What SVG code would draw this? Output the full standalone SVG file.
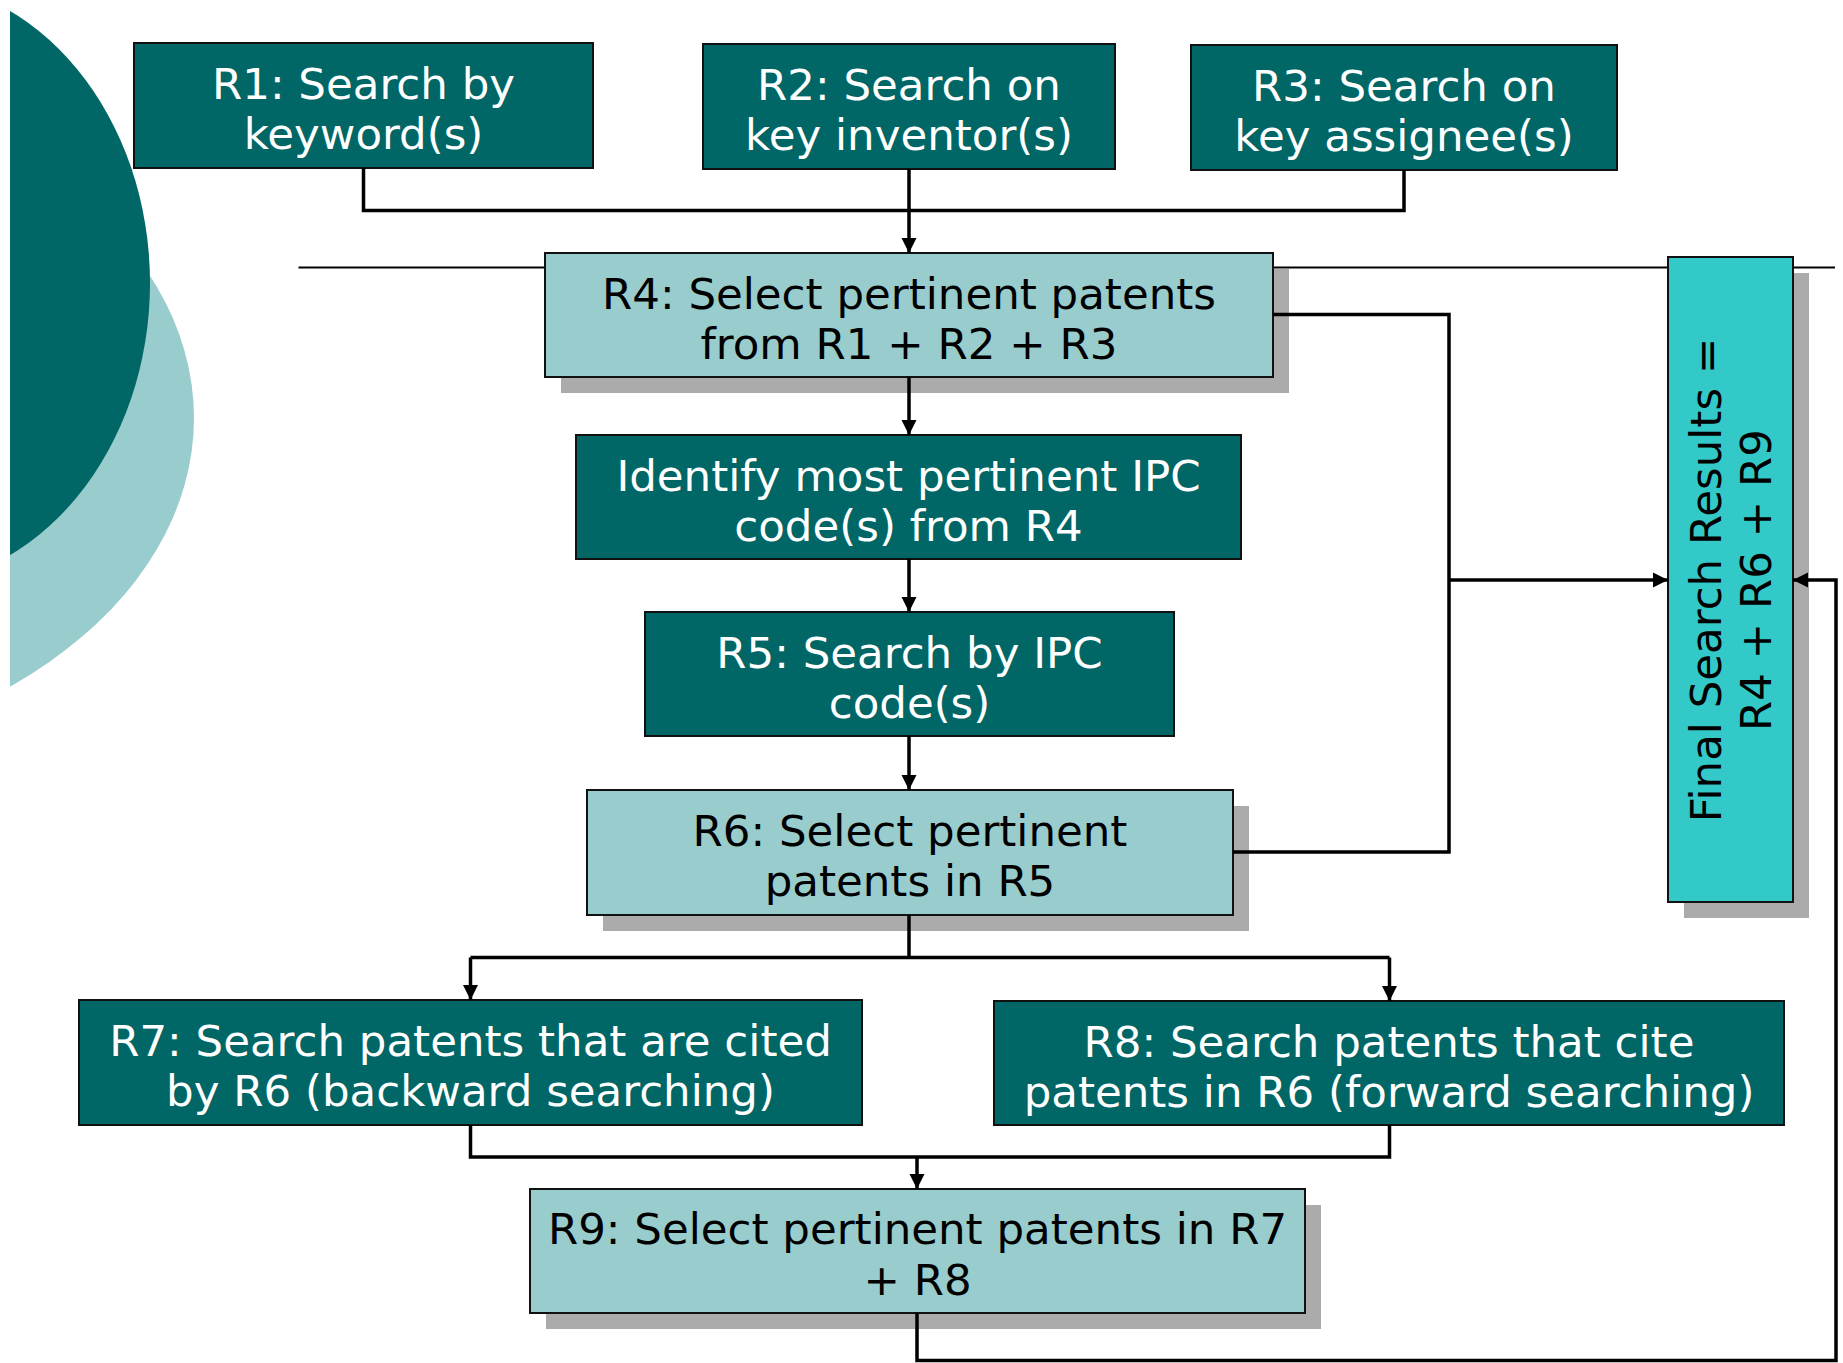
<svg xmlns="http://www.w3.org/2000/svg" width="1843" height="1363" viewBox="0 0 1843 1363">
<defs>
<clipPath id="clipL"><rect x="10" y="0" width="400" height="1363"/></clipPath>
<marker id="arr" markerUnits="userSpaceOnUse" markerWidth="16" markerHeight="16" refX="15" refY="8" orient="auto">
<path d="M0,0.5 L15,8 L0,15.5 z" fill="#000"/>
</marker>
<style>
.dark{fill:#006666;stroke:#111;stroke-width:2}
.light{fill:#99CCCC;stroke:#111;stroke-width:2}
.cyan{fill:#33C9C9;stroke:#111;stroke-width:2}
.shadow{fill:#ABABAB}
.tw{font-family:"DejaVu Sans",Verdana,sans-serif;font-size:43.5px;fill:#ffffff;text-anchor:middle}
.tb{font-family:"DejaVu Sans",Verdana,sans-serif;font-size:43.5px;fill:#000000;text-anchor:middle}
.conn{fill:none;stroke:#000;stroke-width:3.5;stroke-linejoin:miter}
</style>
</defs>
<rect width="1843" height="1363" fill="#ffffff"/>
<g id="background" clip-path="url(#clipL)">
<ellipse cx="-300" cy="418" rx="494" ry="345" fill="#99CCCC"/>
<ellipse cx="-100" cy="283" rx="250" ry="303" fill="#006666"/>
</g>
<line id="divider" x1="298.5" y1="267.5" x2="1835" y2="267.5" stroke="#000" stroke-width="2"/>
<g id="R1"><rect class="dark" x="134" y="43" width="459" height="125"/>
<text class="tw" x="363.5" y="99">R1: Search by</text><text class="tw" x="363.5" y="149">keyword(s)</text></g>
<g id="R2"><rect class="dark" x="703" y="44" width="412" height="125"/>
<text class="tw" x="909" y="100">R2: Search on</text><text class="tw" x="909" y="150">key inventor(s)</text></g>
<g id="R3"><rect class="dark" x="1191" y="45" width="426" height="125"/>
<text class="tw" x="1404" y="101">R3: Search on</text><text class="tw" x="1404" y="151">key assignee(s)</text></g>
<g id="R4"><rect class="shadow" x="561" y="269" width="728" height="124"/><rect class="light" x="545" y="253" width="728" height="124"/>
<text class="tb" x="909" y="308.5">R4: Select pertinent patents</text><text class="tb" x="909" y="358.5">from R1 + R2 + R3</text></g>
<g id="IPC"><rect class="dark" x="576" y="435" width="665" height="124"/>
<text class="tw" x="908.5" y="490.5">Identify most pertinent IPC</text><text class="tw" x="908.5" y="540.5">code(s) from R4</text></g>
<g id="R5"><rect class="dark" x="645" y="612" width="529" height="124"/>
<text class="tw" x="909.5" y="667.5">R5: Search by IPC</text><text class="tw" x="909.5" y="717.5">code(s)</text></g>
<g id="R6"><rect class="shadow" x="603" y="806" width="646" height="125"/><rect class="light" x="587" y="790" width="646" height="125"/>
<text class="tb" x="910" y="846">R6: Select pertinent</text><text class="tb" x="910" y="896">patents in R5</text></g>
<g id="R7"><rect class="dark" x="79" y="1000" width="783" height="125"/>
<text class="tw" x="470.5" y="1056">R7: Search patents that are cited</text><text class="tw" x="470.5" y="1106">by R6 (backward searching)</text></g>
<g id="R8"><rect class="dark" x="994" y="1001" width="790" height="124"/>
<text class="tw" x="1389" y="1056.5">R8: Search patents that cite</text><text class="tw" x="1389" y="1106.5">patents in R6 (forward searching)</text></g>
<g id="R9"><rect class="shadow" x="546" y="1205" width="775" height="124"/><rect class="light" x="530" y="1189" width="775" height="124"/>
<text class="tb" x="917.5" y="1243.5">R9: Select pertinent patents in R7</text><text class="tb" x="917.5" y="1294.5">+ R8</text></g>
<g id="Final"><rect class="shadow" x="1684" y="273" width="125" height="645"/><rect class="cyan" x="1668" y="257" width="125" height="645"/>
<g transform="translate(1730,580) rotate(-90)"><text class="tb" x="0" y="-9">Final Search Results =</text><text class="tb" x="0" y="41">R4 + R6 + R9</text></g></g>
<g id="connectors">
<path class="conn" d="M363.5,168 V210.5 H1404 V170"/>
<path class="conn" d="M909,169 V253" marker-end="url(#arr)"/>
<path class="conn" d="M909,377 V435" marker-end="url(#arr)"/>
<path class="conn" d="M909,559 V612" marker-end="url(#arr)"/>
<path class="conn" d="M909,736 V790" marker-end="url(#arr)"/>
<path class="conn" d="M1273,314.5 H1449 V852 H1233"/>
<path class="conn" d="M1449,580 H1668" marker-end="url(#arr)"/>
<path class="conn" d="M909,915 V957.5"/>
<path class="conn" d="M470.5,957.5 H1389.5"/>
<path class="conn" d="M470.5,957.5 V1000" marker-end="url(#arr)"/>
<path class="conn" d="M1389.5,957.5 V1001" marker-end="url(#arr)"/>
<path class="conn" d="M470.5,1125 V1157 H1389.5 V1125"/>
<path class="conn" d="M917,1157 V1189" marker-end="url(#arr)"/>
<path class="conn" d="M917,1313 V1360.5 H1836 V580 H1793" marker-end="url(#arr)"/>
</g>
</svg>
